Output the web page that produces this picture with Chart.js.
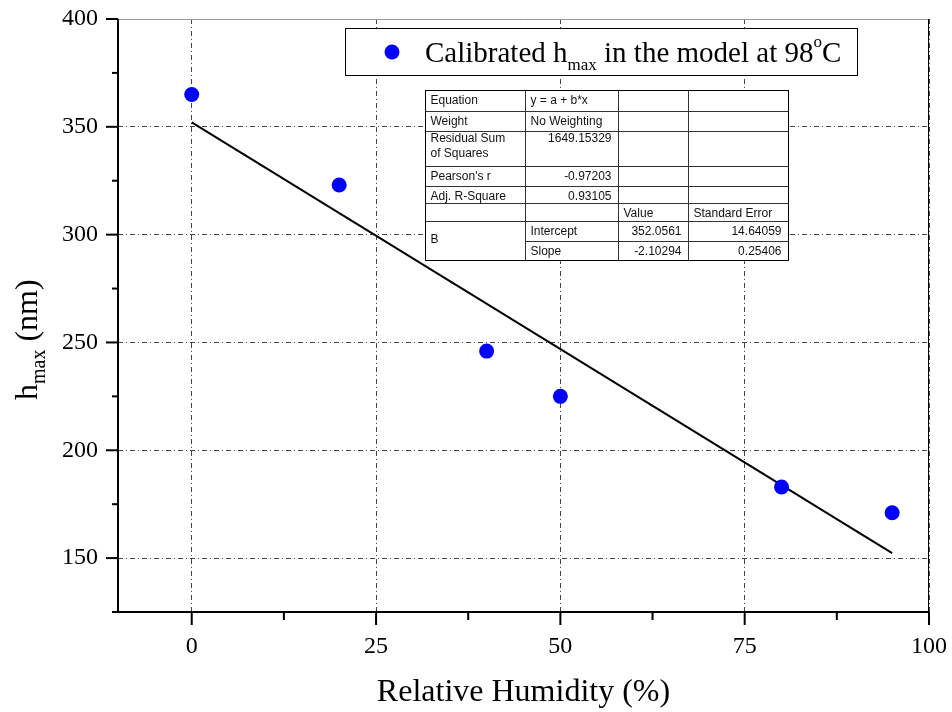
<!DOCTYPE html>
<html>
  <head>
    <meta charset="utf-8">
    <title>hmax vs relative humidity</title>
    <style>
      body { margin: 0; background: #fff; }
      #wrap { width: 952px; height: 712px; }
    </style>
    <script src="https://cdn.jsdelivr.net/npm/chart.js@4"></script>
  </head>
  <body>
    <div id="wrap">
      <canvas id="myChart" width="952" height="712"></canvas>
    </div>
    <script>
// measured points
const humidity = [0, 20, 40, 50, 80, 95];
const hmax = [365, 323, 246, 225, 183, 171];

// fitted line, end points
const fitX = [0, 95];
const fitY = [352.1, 152.3];

// fit report table (label column, then three value columns)
const tableRows = [
  ["Equation", "y = a + b*x", "", ""],
  ["Weight", "No Weighting", "", ""],
  ["Residual Sum|of Squares", "1649.15329", "", ""],
  ["Pearson's r", "-0.97203", "", ""],
  ["Adj. R-Square", "0.93105", "", ""],
  ["", "", "Value", "Standard Error"],
  ["B", "Intercept", "352.0561", "14.64059"],
  ["", "Slope", "-2.10294", "0.25406"]
];

const legendText = ["Calibrated h", "max", " in the model at 98", "o", "C"];
const xTitle = "Relative Humidity (%)";
const yTitle = ["h", "max", " (nm)"];

const serif = "'Liberation Serif', 'Times New Roman', serif";
const sans = "'Liberation Sans', Arial, sans-serif";

function line(ctx, x1, y1, x2, y2) {
  ctx.beginPath();
  ctx.moveTo(x1, y1);
  ctx.lineTo(x2, y2);
  ctx.stroke();
}

// draws text pieces in sequence: [text, size, baseline shift]
function drawPieces(ctx, pieces, x, y) {
  for (const p of pieces) {
    ctx.font = p[1] + "px " + serif;
    ctx.fillText(p[0], x, y + p[2]);
    x += ctx.measureText(p[0]).width;
  }
}

// keep the plot box where the original has it
function noPad(scale) {
  scale.paddingTop = 0;
  scale.paddingBottom = 0;
  scale.paddingLeft = 0;
  scale.paddingRight = 0;
}

const overlay = {
  id: "overlay",
  afterDraw(chart) {
    const ctx = chart.ctx;
    const a = chart.chartArea;
    const xs = chart.scales.x;
    const ys = chart.scales.y;
    ctx.save();

    // frame
    ctx.setLineDash([]);
    ctx.lineWidth = 1;
    ctx.strokeStyle = "#999";
    line(ctx, a.left, a.top + 0.5, a.right, a.top + 0.5);
    ctx.strokeStyle = "#000";
    line(ctx, a.right - 0.5, a.top, a.right - 0.5, a.bottom);
    ctx.lineWidth = 2;
    line(ctx, a.left - 1, a.bottom, a.right, a.bottom);
    line(ctx, a.left, a.top, a.left, a.bottom + 1);

    // ticks, major and minor
    const xStep = 25, yStep = 50;
    for (let v = 0; v <= xs.max + 0.01; v += xStep / 2) {
      const px = xs.getPixelForValue(v);
      const major = Math.abs(v % xStep) < 0.01;
      line(ctx, px, a.bottom, px, a.bottom + (major ? 13 : 8));
    }
    for (let v = ys.min; v <= ys.max + 0.01; v += yStep / 2) {
      const py = ys.getPixelForValue(v);
      const major = Math.abs(v % yStep) < 0.01;
      line(ctx, a.left, py, a.left - (major ? 12 : 6), py);
    }

    // axis titles
    ctx.fillStyle = "#000";
    ctx.textBaseline = "alphabetic";
    ctx.textAlign = "center";
    ctx.font = "32px " + serif;
    ctx.fillText(xTitle, (a.left + a.right) / 2, 701);
    ctx.textAlign = "left";
    ctx.save();
    ctx.translate(37, 400);
    ctx.rotate(-Math.PI / 2);
    drawPieces(ctx, [[yTitle[0], 32, 0], [yTitle[1], 20, 8], [yTitle[2], 32, 0]], 0, 0);
    ctx.restore();

    // legend box
    ctx.fillStyle = "#fff";
    ctx.fillRect(345, 28, 512, 47);
    ctx.lineWidth = 1;
    ctx.strokeStyle = "#000";
    ctx.strokeRect(345.5, 28.5, 512, 47);
    ctx.fillStyle = "#0000ff";
    ctx.beginPath();
    ctx.arc(392, 52, 7.5, 0, Math.PI * 2);
    ctx.fill();
    ctx.fillStyle = "#000";
    drawPieces(ctx, [
      [legendText[0], 29, 0], [legendText[1], 17, 8], [legendText[2], 29, 0],
      [legendText[3], 17, -15], [legendText[4], 29, 0]
    ], 425, 62);

    // fit report table
    const cols = [425.5, 525.5, 618.5, 688.5, 788.5];
    const rows = [90.5, 111.5, 131.5, 166.5, 186.5, 203.5, 221.5, 241.5, 260.5];
    ctx.fillStyle = "#fff";
    ctx.fillRect(cols[0], rows[0], cols[4] - cols[0], rows[8] - rows[0]);
    ctx.strokeStyle = "#000";
    ctx.strokeRect(cols[0], rows[0], cols[4] - cols[0], rows[8] - rows[0]);
    ctx.strokeStyle = "#333";
    for (let c = 1; c < 4; c++) line(ctx, cols[c], rows[0], cols[c], rows[8]);
    for (let r = 1; r < 8; r++) line(ctx, r === 7 ? cols[1] : cols[0], rows[r], cols[4], rows[r]);

    ctx.font = "12px " + sans;
    ctx.fillStyle = "#111";
    const rightAligned = (r, c) => c >= 1 && r >= 2 && !(c === 1 && r >= 5) && !(r === 5);
    tableRows.forEach((row, r) => {
      row.forEach((txt, c) => {
        if (!txt) return;
        let base = rows[r] + 13.5;
        if (r === 2) base = rows[r] + 10.5;
        if (r === 6 && c === 0) base = rows[6] + 21;
        const parts = txt.split("|");
        parts.forEach((t, k) => {
          if (rightAligned(r, c)) {
            ctx.textAlign = "right";
            ctx.fillText(t, cols[c + 1] - 7, base + k * 15);
          } else {
            ctx.textAlign = "left";
            ctx.fillText(t, cols[c] + 5, base + k * 15);
          }
        });
      });
    });

    ctx.restore();
  }
};

const ctx = document.getElementById("myChart").getContext("2d");
const myChart = new Chart(ctx, {
  type: "scatter",
  data: {
    datasets: [
      {
        data: humidity.map((v, i) => ({ x: v, y: hmax[i] })),
        pointStyle: "circle",
        pointRadius: 7.5,
        backgroundColor: "#0000ff",
        borderWidth: 0
      },
      {
        type: "line",
        data: fitX.map((v, i) => ({ x: v, y: fitY[i] })),
        borderColor: "#000",
        borderWidth: 2,
        pointRadius: 0,
        fill: false
      }
    ]
  },
  plugins: [overlay],
  options: {
    animation: false,
    responsive: false,
    layout: { padding: { top: 19, right: 23, left: 0, bottom: 0 } },
    plugins: { legend: { display: false }, tooltip: { enabled: false } },
    scales: {
      x: {
        type: "linear",
        min: -10,
        max: 100,
        afterFit: function (scale) { scale.height = 100; noPad(scale); },
        ticks: { stepSize: 25, includeBounds: false, padding: 20, color: "#000", maxRotation: 0,
                 font: { family: serif, size: 24 } },
        grid: { drawTicks: false, color: "#444", lineWidth: 1 },
        border: { display: false, dash: [5, 3, 1, 3] }
      },
      y: {
        type: "linear",
        min: 125,
        max: 400,
        afterFit: function (scale) { scale.width = 118; noPad(scale); },
        ticks: { stepSize: 50, includeBounds: false, padding: 20, color: "#000",
                 font: { family: serif, size: 24 } },
        grid: { drawTicks: false, color: "#444", lineWidth: 1 },
        border: { display: false, dash: [5, 3, 1, 3] }
      }
    }
  }
});
    </script>
  </body>
</html>
